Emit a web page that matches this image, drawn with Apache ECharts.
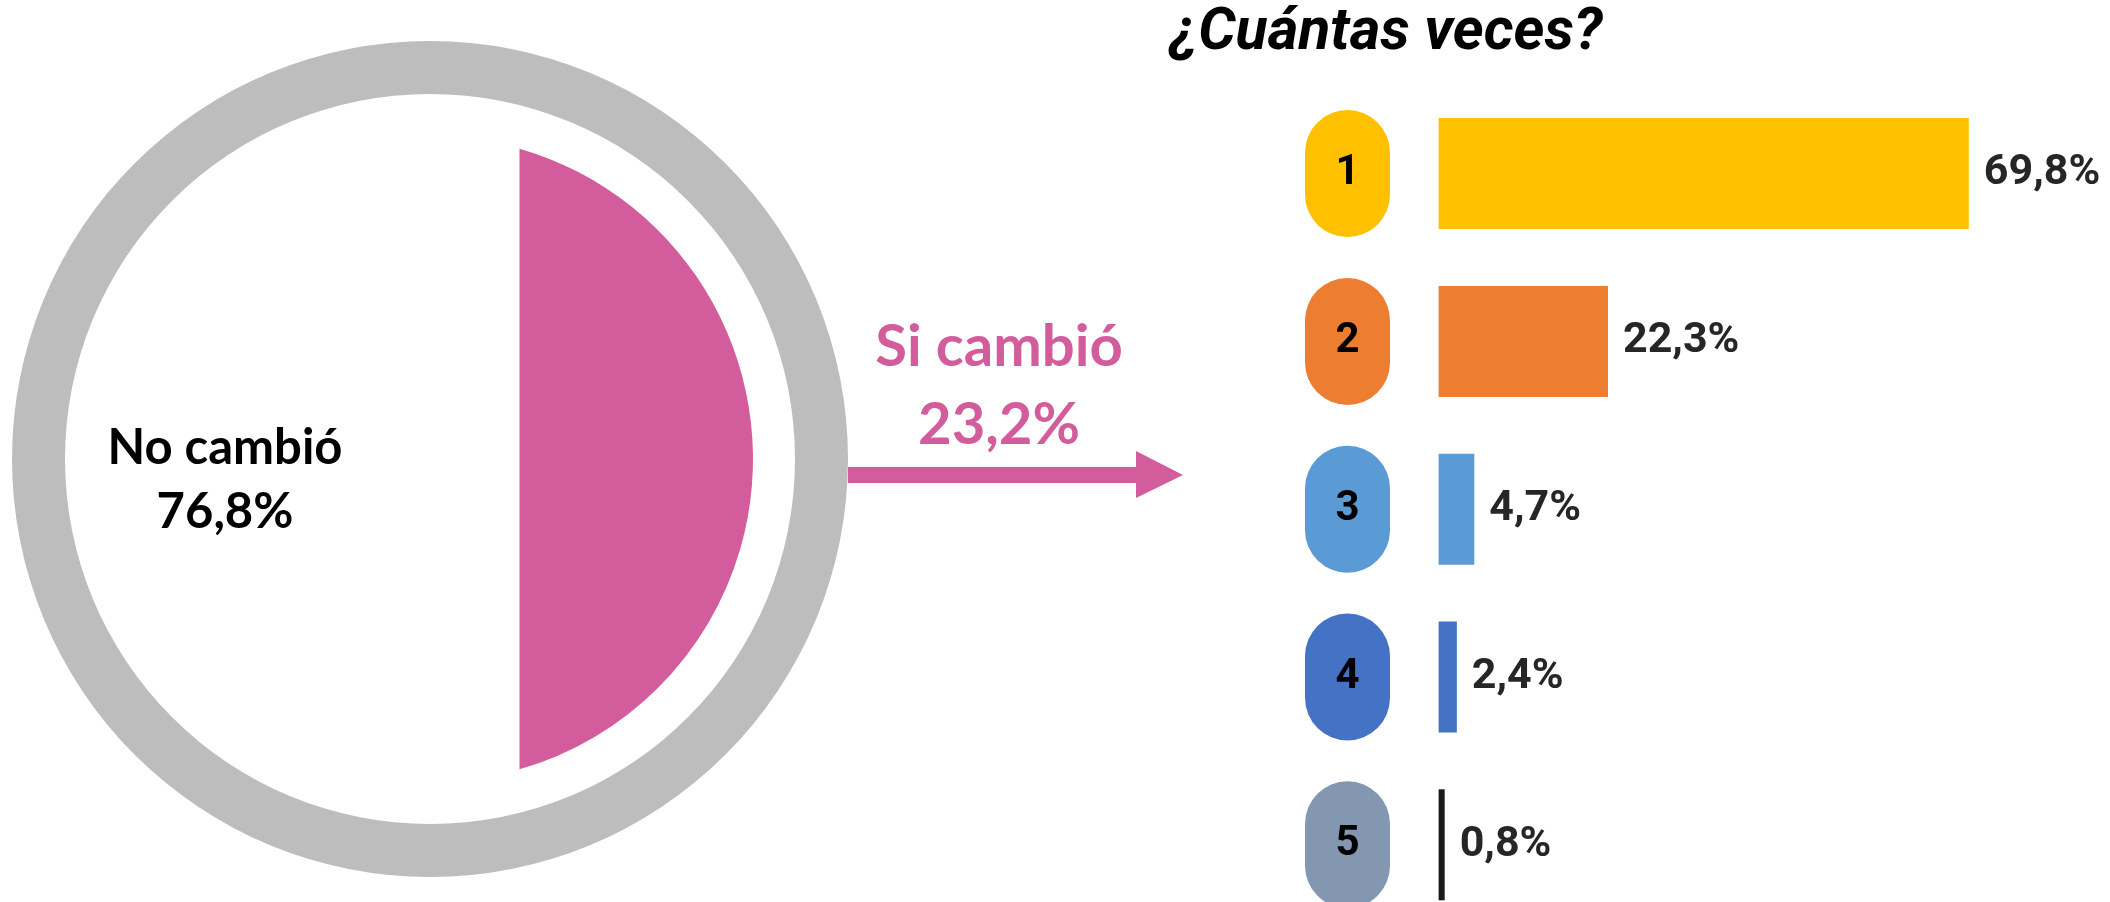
<!DOCTYPE html>
<html>
<head>
<meta charset="utf-8">
<script src="https://cdn.jsdelivr.net/npm/echarts@6/dist/echarts.min.js"></script>
<style>html,body{margin:0;padding:0;background:#fff}#c{width:2110px;height:902px}</style>
</head>
<body>
<div id="c"></div>
<script>
// ---- data ----
const pieNames = ['No cambió', 'Si cambió'];
const pieValues = [76.8, 23.2];
const titleText = '¿Cuántas veces?';
const timesCategories = ['1', '2', '3', '4', '5'];
const timesValues = [69.8, 22.3, 4.7, 2.4, 0.8];
const barColors = ['#FFC000', '#ED7D31', '#5B9BD5', '#4472C4', '#1A1A1A'];
const badgeColors = ['#FFC000', '#ED7D31', '#5B9BD5', '#4472C4', '#8497B0'];

const fmt = v => v.toFixed(1).replace('.', ',') + '%';
const PINK = '#D35D9C';
const GRAY = '#BDBDBD';
const NARROW = "Roboto, 'Liberation Sans', sans-serif";

// layout
const cx = 430, cy = 459;
const segR = 323, segD = 89.5;

const chart = echarts.init(document.getElementById('c'));
const rich = {};
badgeColors.forEach((c, i) => {
  rich['b' + i] = {
    backgroundColor: c, width: 85, height: 127, lineHeight: 127,
    borderRadius: 42.5, align: 'center', verticalAlign: 'middle',
    fontFamily: NARROW, fontWeight: 'bold', fontSize: 42, color: '#000'
  };
});

chart.setOption({
  animation: false,
  title: {
    text: titleText, left: 1381, top: 0, textAlign: 'center',
    textStyle: { fontFamily: NARROW, fontStyle: 'italic', fontWeight: 'bold', fontSize: 59, color: '#000' }
  },
  grid: { outerBoundsMode: 'none', containLabel: false, left: 1438.6, top: 89.7, width: 530.2, height: 839 },
  xAxis: { type: 'value', min: 0, max: 69.8, show: false },
  yAxis: {
    type: 'category', inverse: true, data: timesCategories,
    axisLine: { show: false }, axisTick: { show: false }, splitLine: { show: false },
    axisLabel: { margin: 48.6, formatter: (v, i) => '{b' + i + '|' + v + '}', rich: rich }
  },
  series: [
    {
      type: 'bar', barWidth: 111, silent: true,
      data: timesValues.map((v, i) => ({ value: v, itemStyle: { color: barColors[i] } })),
      label: {
        show: true, position: 'right', distance: 15, formatter: p => fmt(p.value),
        fontFamily: NARROW, fontWeight: 'bold', fontSize: 43, color: '#262626'
      }
    },
    {
      type: 'pie', center: [cx, cy], radius: [365, 418], silent: true,
      label: { show: false }, labelLine: { show: false },
      data: [{ name: pieNames.join(' / '), value: pieValues.reduce((a, b) => a + b, 0), itemStyle: { color: GRAY } }]
    },
    {
      type: 'custom', coordinateSystem: 'none', silent: true,
      data: [[pieValues[1]]],
      renderItem: function () {
        const h = Math.sqrt(segR * segR - segD * segD);
        const x = cx + segD;
        return {
          type: 'path',
          shape: { pathData: `M ${x} ${cy - h} A ${segR} ${segR} 0 0 1 ${x} ${cy + h} Z` },
          style: { fill: PINK }
        };
      }
    }
  ],
  graphic: [
    { type: 'rect', shape: { x: 848, y: 467, width: 290, height: 16 }, style: { fill: PINK } },
    { type: 'polygon', shape: { points: [[1136, 451], [1183, 475], [1136, 498]] }, style: { fill: PINK } },
    {
      type: 'text', x: 999, y: 386,
      style: {
        text: pieNames[1] + '\n' + fmt(pieValues[1]), fill: PINK,
        font: 'bold 58px Lato', lineHeight: 78, align: 'center', verticalAlign: 'middle'
      }
    },
    {
      type: 'text', x: 225, y: 480,
      style: {
        text: pieNames[0] + '\n' + fmt(pieValues[0]), fill: '#000',
        font: 'bold 49px Lato', lineHeight: 64, align: 'center', verticalAlign: 'middle'
      }
    }
  ]
});
</script>
</body>
</html>
